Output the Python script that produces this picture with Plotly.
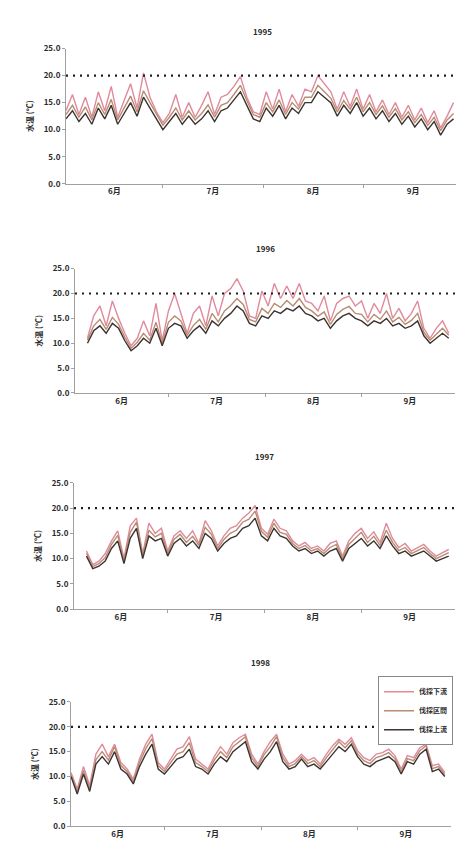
import plotly.graph_objects as go

YEARS = ["1995", "1996", "1997", "1998"]
SERIES_NAMES = ["伐採下流", "伐採区間", "伐採上流"]
MONTH_LABELS = ["6月", "7月", "8月", "9月"]
MONTH_CENTERS = [15, 45.5, 76.5, 107.5]
MONTH_BOUNDS = [30, 61, 92]
THRESHOLD = 20.0
YTICKS = [0, 5, 10, 15, 20, 25]

DAYS_95 = list(range(0, 121, 2))
DAYS_96 = list(range(4, 121, 2))
DAYS_97 = list(range(4, 121, 2))
DAYS_98 = list(range(0, 121, 2))

down_95 = [13.5, 16.5, 12.8, 16.0, 12.3, 17.0, 13.5, 18.0, 12.3, 15.5, 18.5, 14.0, 20.5, 16.0, 13.3, 11.3, 13.0, 16.5, 12.3, 15.0, 12.3, 14.5, 17.0, 12.8, 16.0, 16.5, 18.0, 19.8, 16.0, 13.3, 12.8, 17.0, 13.8, 17.5, 13.3, 16.5, 14.3, 17.5, 17.0, 20.0, 18.5, 17.0, 13.8, 17.0, 14.3, 17.5, 13.8, 16.5, 13.3, 15.5, 12.8, 15.0, 12.3, 14.5, 11.8, 14.0, 11.3, 13.5, 10.3, 12.5, 15.0]
mid_95 = [12.8, 14.5, 12.3, 14.2, 11.8, 15.0, 12.8, 15.6, 11.8, 14.0, 16.2, 13.3, 17.2, 15.0, 12.8, 10.8, 12.3, 14.0, 11.8, 13.5, 11.8, 13.0, 14.6, 12.3, 14.5, 15.0, 16.5, 18.2, 15.4, 12.8, 12.3, 15.0, 13.3, 15.5, 12.8, 15.0, 13.8, 16.0, 16.0, 18.2, 17.0, 15.8, 13.3, 15.4, 13.8, 16.0, 13.3, 15.0, 12.8, 14.4, 12.3, 13.9, 11.8, 13.3, 11.3, 12.8, 10.8, 12.3, 9.8, 11.8, 13.0]
up_95 = [12.0, 13.5, 11.5, 13.0, 11.0, 14.0, 12.0, 14.5, 11.0, 13.0, 15.0, 12.5, 16.0, 14.0, 12.0, 10.0, 11.5, 13.0, 11.0, 12.5, 11.0, 12.0, 13.5, 11.5, 13.5, 14.0, 15.5, 17.0, 14.5, 12.0, 11.5, 14.0, 12.5, 14.5, 12.0, 14.0, 13.0, 15.0, 15.0, 17.0, 16.0, 15.0, 12.5, 14.5, 13.0, 15.0, 12.5, 14.0, 12.0, 13.5, 11.5, 13.0, 11.0, 12.5, 10.5, 12.0, 10.0, 11.5, 9.0, 11.0, 12.0]

down_96 = [11.0, 15.5, 17.5, 13.5, 18.5, 15.0, 12.0, 9.5, 11.0, 14.5, 11.5, 18.0, 10.5, 16.5, 20.0, 16.0, 12.0, 16.0, 17.5, 13.5, 19.5, 15.5, 20.0, 21.0, 23.0, 20.5, 15.5, 15.0, 20.5, 17.5, 22.0, 19.0, 21.5, 19.0, 22.0, 18.5, 18.0, 16.5, 19.5, 14.5, 18.0, 19.0, 19.5, 17.5, 18.5, 15.0, 18.0, 16.0, 20.0, 15.0, 17.0, 14.5, 16.0, 18.5, 13.0, 11.0, 13.0, 14.5, 12.0]
mid_96 = [10.6, 13.5, 14.8, 12.8, 15.2, 13.8, 11.2, 9.0, 10.2, 12.0, 10.6, 14.2, 10.0, 14.2, 15.5, 14.5, 11.6, 13.6, 14.8, 12.8, 16.0, 14.3, 16.5, 17.6, 19.0, 17.8, 14.8, 14.3, 17.0, 16.0, 18.0, 17.2, 18.6, 17.5, 19.0, 17.2, 16.5, 15.4, 16.3, 13.8, 15.8, 16.8, 17.4, 16.0, 15.8, 14.3, 15.8, 14.8, 16.5, 14.3, 15.2, 13.8, 14.6, 16.0, 12.2, 10.6, 11.8, 13.0, 11.6]
up_96 = [10.0, 12.5, 13.5, 12.0, 14.0, 13.0, 10.5, 8.5, 9.5, 11.0, 10.0, 13.0, 9.5, 13.0, 14.0, 13.5, 11.0, 12.5, 13.5, 12.0, 14.5, 13.5, 15.0, 16.0, 17.5, 16.5, 14.0, 13.5, 15.5, 15.0, 16.5, 16.0, 17.0, 16.5, 17.5, 16.0, 15.5, 14.5, 15.0, 13.0, 14.5, 15.5, 16.0, 15.0, 14.5, 13.5, 14.5, 14.0, 15.0, 13.5, 14.0, 13.0, 13.5, 14.5, 11.5, 10.0, 11.0, 12.0, 11.0]

down_97 = [11.5, 8.8, 9.5, 11.0, 13.5, 15.5, 10.0, 16.5, 18.0, 11.0, 17.0, 15.0, 16.0, 11.5, 14.5, 15.5, 14.0, 15.5, 13.0, 17.5, 15.5, 12.5, 14.5, 16.0, 16.5, 18.0, 19.0, 20.5, 16.0, 14.8, 17.8, 16.0, 15.5, 13.5, 12.5, 13.2, 12.0, 12.5, 11.5, 13.0, 13.5, 10.5, 13.5, 15.0, 16.0, 14.0, 15.3, 13.2, 17.0, 14.0, 12.2, 13.0, 11.5, 12.2, 12.8, 11.5, 10.5, 11.2, 11.8]
mid_97 = [11.0, 8.4, 9.0, 10.2, 12.8, 14.6, 9.6, 15.2, 17.2, 10.6, 15.6, 14.3, 15.0, 11.0, 13.8, 14.8, 13.2, 14.4, 12.6, 16.2, 14.8, 12.0, 13.8, 15.0, 15.6, 17.2, 17.8, 19.4, 15.4, 14.2, 17.0, 15.2, 14.8, 13.0, 12.0, 12.6, 11.5, 12.0, 11.0, 12.2, 12.8, 10.0, 12.8, 14.0, 15.2, 13.2, 14.4, 12.6, 15.6, 13.2, 11.6, 12.2, 11.0, 11.6, 12.2, 11.0, 10.0, 10.6, 11.2]
up_97 = [10.5, 8.0, 8.5, 9.5, 12.0, 13.5, 9.0, 14.0, 16.0, 10.0, 14.5, 13.5, 14.0, 10.5, 13.0, 14.0, 12.5, 13.5, 12.0, 15.0, 14.0, 11.5, 13.0, 14.0, 14.5, 16.0, 16.5, 18.0, 14.5, 13.5, 16.0, 14.5, 14.0, 12.5, 11.5, 12.0, 11.0, 11.5, 10.5, 11.5, 12.0, 9.5, 12.0, 13.0, 14.0, 12.5, 13.5, 12.0, 14.5, 12.5, 11.0, 11.5, 10.5, 11.0, 11.5, 10.5, 9.5, 10.0, 10.5]

down_98 = [10.8, 7.5, 12.0, 8.2, 14.5, 16.5, 14.0, 16.5, 12.8, 11.5, 9.5, 13.5, 16.5, 18.5, 12.8, 11.5, 13.5, 15.5, 16.0, 18.0, 13.5, 12.5, 11.5, 14.0, 16.0, 14.5, 16.8, 17.8, 18.5, 14.5, 12.5, 15.0, 17.0, 18.5, 14.5, 12.5, 13.2, 14.5, 13.2, 13.8, 12.5, 14.5, 16.2, 17.5, 16.5, 17.8, 15.2, 13.8, 13.2, 14.5, 14.8, 15.5, 14.2, 11.5, 14.2, 13.8, 15.8, 16.5, 12.2, 12.5, 10.8]
mid_98 = [10.4, 7.0, 11.2, 7.6, 13.4, 15.0, 13.3, 16.0, 12.2, 11.0, 9.0, 12.8, 15.6, 17.6, 12.2, 11.0, 12.8, 14.5, 15.0, 16.8, 12.8, 12.0, 11.0, 13.3, 15.0, 13.8, 16.0, 17.0, 18.0, 13.8, 12.0, 14.4, 16.0, 18.0, 13.8, 12.0, 12.6, 14.0, 12.6, 13.2, 12.0, 13.8, 15.4, 17.0, 15.8, 17.2, 14.6, 13.2, 12.6, 13.8, 14.2, 14.8, 13.6, 11.0, 13.6, 13.2, 15.2, 16.2, 11.6, 12.0, 10.4]
up_98 = [10.0, 6.5, 10.5, 7.0, 12.5, 14.0, 12.5, 15.0, 11.5, 10.5, 8.5, 12.0, 14.5, 16.5, 11.5, 10.5, 12.0, 13.5, 14.0, 15.5, 12.0, 11.5, 10.5, 12.5, 14.0, 13.0, 15.0, 16.0, 17.0, 13.0, 11.5, 13.5, 15.0, 17.0, 13.0, 11.5, 12.0, 13.5, 12.0, 12.5, 11.5, 13.0, 14.5, 16.0, 15.0, 16.5, 14.0, 12.5, 12.0, 13.0, 13.5, 14.0, 13.0, 10.5, 13.0, 12.5, 14.5, 15.5, 11.0, 11.5, 10.0]

PANELS = [
    (DAYS_95, [down_95, mid_95, up_95]),
    (DAYS_96, [down_96, mid_96, up_96]),
    (DAYS_97, [down_97, mid_97, up_97]),
    (DAYS_98, [down_98, mid_98, up_98]),
]

COLORS = ["#e08a9c", "#b88c70", "#3d3333"]
W, H = 464, 843

# pixel layout of each panel: (x_left, x_right, y_top(25), y_bottom(0), title_y)
BOXES = [
    (58, 452, 35, 172, 10),
    (67, 447, 258, 384, 230),
    (66, 447, 475, 603, 448),
    (63, 443, 697, 823, 665),
]

FONT = "Noto Sans CJK JP"
TXT = "#2a2a2a"
fig = go.Figure()
layout = dict(
    width=W, height=H, margin=dict(l=0, r=0, t=0, b=0),
    paper_bgcolor="white", plot_bgcolor="white",
    font=dict(family=FONT, size=8, color=TXT),
    showlegend=True,
)
annotations = []
shapes = []
for i, ((days, series), box) in enumerate(zip(PANELS, BOXES)):
    n = "" if i == 0 else str(i + 1)
    xl, xr, yt, yb, ty = box
    for j, (name, vals) in enumerate(zip(SERIES_NAMES, series)):
        fig.add_trace(go.Scatter(
            x=days, y=vals, mode="lines", name=name,
            line=dict(color=COLORS[j], width=1.4),
            xaxis="x" + n, yaxis="y" + n,
            showlegend=(i == 3), legendgroup=name,
        ))
    layout["xaxis" + n] = dict(
        domain=[xl / W, xr / W], range=[0, 122], anchor="y" + n,
        tickvals=MONTH_CENTERS, ticktext=MONTH_LABELS, ticks="",
        showline=True, linecolor="#a0a0a0", linewidth=1,
        showgrid=False, zeroline=False,
        tickfont=dict(family=FONT, size=8, color=TXT, weight="bold"),
        minor=dict(tickvals=MONTH_BOUNDS, ticks="outside", ticklen=3, tickcolor="#a0a0a0", showgrid=False),
    )
    layout["yaxis" + n] = dict(
        domain=[1 - yb / H, 1 - yt / H], range=[0, 25], anchor="x" + n,
        tickvals=YTICKS, tickformat=".1f", ticks="outside", ticklen=3, tickcolor="#a0a0a0",
        showline=True, linecolor="#a0a0a0", linewidth=1,
        showgrid=False, zeroline=False,
        tickfont=dict(family=FONT, size=8, color=TXT, weight="bold"),
        title=dict(text="水温 (℃)", font=dict(family=FONT, size=8, color=TXT, weight="bold"), standoff=8),
    )
    shapes.append(dict(
        type="line", xref="x" + n + " domain", yref="y" + n,
        x0=0, x1=1, y0=THRESHOLD, y1=THRESHOLD,
        line=dict(color="#1e1e1e", width=2.2, dash="2px,5px"),
    ))
    annotations.append(dict(
        text="<b>" + YEARS[i] + "</b>", x=(xl + xr) / 2 / W, y=1 - ty / H,
        xref="paper", yref="paper", showarrow=False,
        font=dict(family=FONT, size=8, color=TXT),
    ))

layout["annotations"] = annotations
layout["shapes"] = shapes
layout["legend"] = dict(
    x=445 / W, y=1 - 671 / H, xanchor="right", yanchor="top",
    bgcolor="white", bordercolor="#888888", borderwidth=1,
    font=dict(family=FONT, size=7, color=TXT, weight="bold"),
    tracegroupgap=0, itemwidth=30,
)
fig.update_layout(**layout)
fig.write_html("out.html")
